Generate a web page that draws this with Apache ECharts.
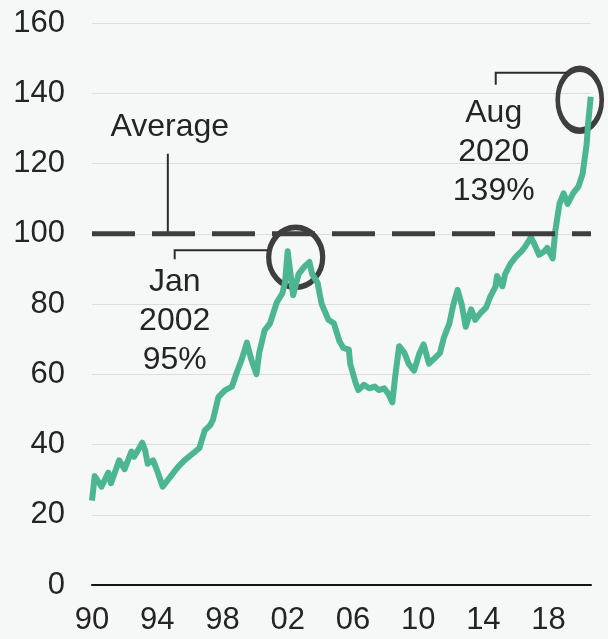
<!DOCTYPE html>
<html>
<head>
<meta charset="utf-8">
<script src="https://cdn.jsdelivr.net/npm/echarts@6/dist/echarts.min.js"></script>
<style>
  html, body { margin: 0; padding: 0; background: #f6f8f7; }
  #chart { width: 608px; height: 639px; }
</style>
</head>
<body>
<div id="chart"></div>
<script>
// Monthly readings of the ratio (% of its long-run average = 100)
const dates = [
  '1990-01','1990-03','1990-08','1991-01','1991-03','1991-09','1992-01','1992-06','1992-08',
  '1993-02','1993-04','1993-06','1993-10','1994-01','1994-05','1994-10','1995-04','1995-09',
  '1996-05','1996-08','1996-12','1997-04','1997-06','1997-10','1998-03','1998-08','1998-12',
  '1999-03','1999-07','1999-10','2000-02','2000-04','2000-08','2000-12','2001-05','2001-09',
  '2001-11','2002-01','2002-05','2002-09','2003-01','2003-05','2003-07','2003-11','2004-02',
  '2004-07','2004-11','2005-03','2005-06','2005-10','2005-11','2006-03','2006-05','2006-09',
  '2007-01','2007-05','2007-08','2007-12','2008-03','2008-06','2008-08','2008-11','2009-03',
  '2009-06','2009-10','2010-02','2010-05','2010-09','2011-01','2011-05','2011-08','2011-12',
  '2012-03','2012-06','2012-09','2012-12','2013-04','2013-07','2013-11','2014-03','2014-06',
  '2014-10','2014-11','2015-03','2015-05','2015-09','2016-01','2016-05','2016-08','2016-12',
  '2017-02','2017-06','2017-10','2017-12','2018-04','2018-06','2018-09','2018-12','2019-03',
  '2019-07','2019-11','2020-02','2020-05','2020-06','2020-08'
];
const ratio = [
  24, 31, 28, 32, 29, 35.5, 33, 38, 36.5,
  40.5, 38.5, 34.5, 35.5, 32.5, 28, 30.5, 33.5, 35.5,
  38, 39, 44, 45.5, 47, 53.5, 55.5, 56.5, 61,
  64, 69, 64.5, 60, 66, 72.5, 74.5, 80.5, 83,
  86, 95, 82.5, 88.5, 90.5, 92, 88.5, 86, 80,
  75.5, 74.5, 69.5, 67.5, 67, 63, 57.5, 55.5, 57,
  56, 56.5, 55.5, 56, 54.5, 52, 59, 68, 66,
  63, 61, 66, 68.5, 63, 64.5, 66, 70.5, 74.5,
  80, 84, 80, 73.5, 78.5, 75.5, 77.5, 79, 82,
  85, 88, 85, 88.5, 91.5, 93.5, 95, 96.5, 99,
  97.5, 94, 95, 96, 93, 101, 108.5, 111.5, 108.5,
  111.5, 113.5, 117, 125.5, 131, 139
];
const average = 100;
const yTicks = [0, 20, 40, 60, 80, 100, 120, 140, 160];
const xTickYears = [1990, 1994, 1998, 2002, 2006, 2010, 2014, 2018];
const highlights = [
  { date: '2002-01', lines: ['Jan', '2002', '95%'] },
  { date: '2020-08', lines: ['Aug', '2020', '139%'] }
];

const BASE_YEAR = 1990;
const toX = d => {
  const [y, m] = d.split('-').map(Number);
  return y - BASE_YEAR + (m - 1) / 12;
};
const seriesData = dates.map((d, i) => [toX(d), ratio[i]]);
const xMax = 30.6;
const hiPoints = highlights.map(h => seriesData[dates.indexOf(h.date)]);

const FONT = "'Liberation Sans', Arial, sans-serif";
const INK = '#242424';
const RING = '#3e3e3e';

const chart = echarts.init(document.getElementById('chart'), null, { renderer: 'canvas' });

chart.setOption({
  backgroundColor: '#f6f8f7',
  animation: false,
  grid: { left: 92, right: 17, top: 23, bottom: 54 },
  xAxis: {
    type: 'value',
    min: 0,
    max: xMax,
    interval: 4,
    axisLine: { show: true, onZero: false, lineStyle: { color: '#141414', width: 2 } },
    axisTick: { show: false },
    splitLine: { show: false },
    axisLabel: {
      margin: 20,
      fontSize: 31,
      fontFamily: FONT,
      color: INK,
      showMaxLabel: false,
      formatter: v => {
        const yr = Math.round(BASE_YEAR + v);
        if (Math.abs(BASE_YEAR + v - yr) > 1e-6 || xTickYears.indexOf(yr) < 0) return '';
        return String(yr % 100).padStart(2, '0');
      }
    }
  },
  yAxis: {
    type: 'value',
    min: yTicks[0],
    max: yTicks[yTicks.length - 1],
    interval: yTicks[1] - yTicks[0],
    axisLine: { show: false },
    axisTick: { show: false },
    splitLine: { lineStyle: { color: '#d9dede', width: 1 } },
    axisLabel: { margin: 27, fontSize: 31, fontFamily: FONT, color: INK }
  },
  series: [
    {
      name: 'rings',
      type: 'scatter',
      z: 1,
      data: [
        { value: hiPoints[0], symbolSize: [54, 60], symbolOffset: [8, 6] },
        { value: hiPoints[1], symbolSize: [44, 62], symbolOffset: [-11, 3] }
      ],
      symbol: 'circle',
      itemStyle: { color: 'rgba(0,0,0,0)', borderColor: RING, borderWidth: 5.5, opacity: 1 },
      silent: true
    },
    {
      name: 'ratio',
      type: 'line',
      z: 2,
      data: seriesData,
      showSymbol: false,
      lineStyle: { color: '#4cb592', width: 6, join: 'round' }
    },
    {
      name: 'Average',
      type: 'line',
      z: 3,
      data: [[0, average], [xMax, average]],
      showSymbol: false,
      lineStyle: { color: RING, width: 5, type: [43, 17] }
    }
  ]
});

// Notes and leader lines, placed from the highlighted points
function drawNotes() {
  const px = v => chart.convertToPixel({ gridIndex: 0 }, v);
  const p1 = px(hiPoints[0]);
  const p2 = px(hiPoints[1]);
  const avgY = px([0, average])[1];
  const avgX = px([4.65, average])[0];
  const textStyle = (txt, x, y) => ({
    text: txt, x: x, y: y, font: '32px ' + FONT, fill: INK,
    textAlign: 'center', textVerticalAlign: 'top', lineHeight: 39
  });
  const lead = { stroke: '#2c2c2c', lineWidth: 2, fill: null };
  chart.setOption({
    graphic: [
      { type: 'text', z: 10, style: textStyle('Average', avgX + 2, avgY - 126) },
      { type: 'line', z: 10, shape: { x1: avgX, y1: avgY - 80, x2: avgX, y2: avgY - 2 }, style: lead },
      { type: 'text', z: 10, style: textStyle(highlights[0].lines.join('\n'), p1[0] - 113, p1[1] + 11) },
      { type: 'polyline', z: 10, shape: { points: [[p1[0] - 20, p1[1] - 1], [p1[0] - 113, p1[1] - 1], [p1[0] - 113, p1[1] + 8]] }, style: lead },
      { type: 'text', z: 10, style: textStyle(highlights[1].lines.join('\n'), p2[0] - 97, p2[1] - 3) },
      { type: 'polyline', z: 10, shape: { points: [[p2[0] - 24, p2[1] - 24], [p2[0] - 95, p2[1] - 24], [p2[0] - 95, p2[1] - 12]] }, style: lead }
    ]
  });
}
drawNotes();
</script>
</body>
</html>
